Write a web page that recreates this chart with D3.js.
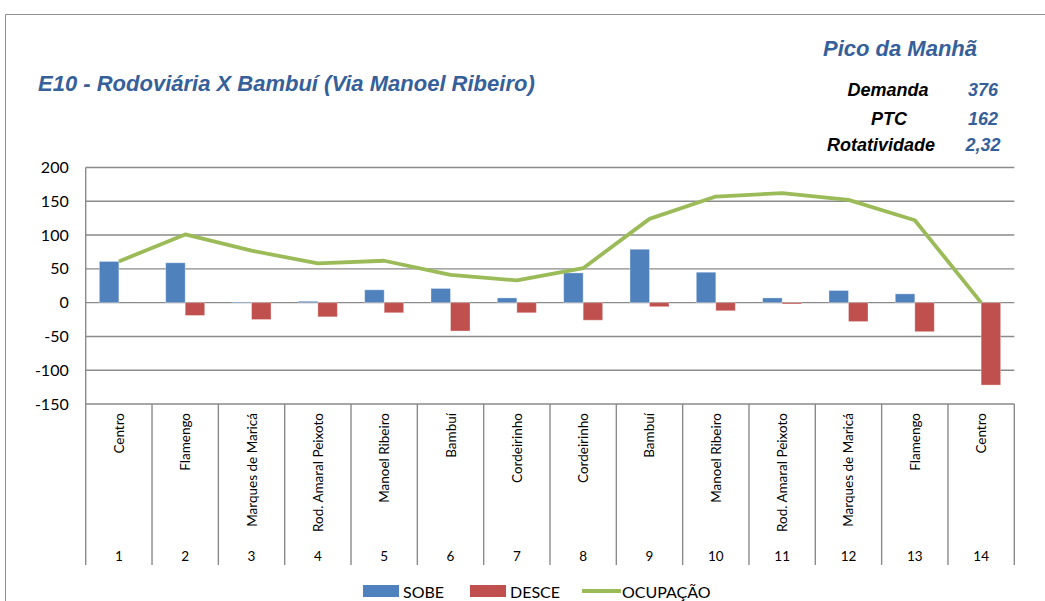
<!DOCTYPE html>
<html>
<head>
<meta charset="utf-8">
<script src="https://cdn.jsdelivr.net/npm/d3@7"></script>
<style>
  html, body { margin: 0; padding: 0; background: #fff; }
  svg { display: block; }
</style>
</head>
<body>
<svg id="chart" width="1045" height="601"></svg>
<script>
// Stops along the line, in travel order
const stopNames = ["Centro", "Flamengo", "Marques de Maricá", "Rod. Amaral Peixoto", "Manoel Ribeiro",
  "Bambuí", "Cordeirinho", "Cordeirinho", "Bambuí", "Manoel Ribeiro",
  "Rod. Amaral Peixoto", "Marques de Maricá", "Flamengo", "Centro"];
const stopNumbers = ["1", "2", "3", "4", "5", "6", "7", "8", "9", "10", "11", "12", "13", "14"];

// Boardings, alightings (negative) and on-board load per stop
const sobe     = [61, 59, 1, 2, 19, 21, 7, 44, 79, 45, 7, 18, 13, 0];
const desce    = [0, -19, -25, -21, -15, -42, -15, -26, -6, -12, -2, -28, -43, -122];
const ocupacao = [61, 101, 77, 58, 62, 41, 33, 51, 124, 157, 162, 152, 122, 0];

const yTicks = [200, 150, 100, 50, 0, -50, -100, -150];

// Summary block
const summaryLabels = ["Demanda", "PTC", "Rotatividade"];
const summaryValues = ["376", "162", "2,32"];

const legendItems = [
  { key: "sobe", label: "SOBE" },
  { key: "desce", label: "DESCE" },
  { key: "ocupacao", label: "OCUPAÇÃO" }
];

const colors = { sobe: "#4F81BD", desce: "#C0504D", ocupacao: "#9BBB59" };
const titleBlue = "#36609A";
const gridColor = "#8A8A8A";
const labelFont = "Lato, 'Open Sans', sans-serif";
const headFont = "'Liberation Sans', Arial, sans-serif";

const svg = d3.select("#chart");

// outer frame
svg.append("path")
  .attr("d", "M5.5,640 L5.5,14.5 L1050,14.5")
  .attr("fill", "none").attr("stroke", "#8f8f8f").attr("stroke-width", 1);

// title
svg.append("text")
  .attr("x", 38).attr("y", 91)
  .attr("font-family", headFont).attr("font-size", 22)
  .attr("font-weight", "bold").attr("font-style", "italic")
  .attr("fill", titleBlue)
  .text("E10 - Rodoviária X Bambuí (Via Manoel Ribeiro)");

svg.append("text")
  .attr("x", 900).attr("y", 56).attr("text-anchor", "middle")
  .attr("font-family", headFont).attr("font-size", 22)
  .attr("font-weight", "bold").attr("font-style", "italic")
  .attr("fill", titleBlue)
  .text("Pico da Manhã");

const summaryY = [96, 124.5, 150.5];
const summaryLabelX = [888, 889, 881];
summaryLabels.forEach((lbl, i) => {
  svg.append("text")
    .attr("x", summaryLabelX[i]).attr("y", summaryY[i]).attr("text-anchor", "middle")
    .attr("font-family", headFont).attr("font-size", 18)
    .attr("font-weight", "bold").attr("font-style", "italic")
    .attr("fill", "#000").text(lbl);
  svg.append("text")
    .attr("x", 983).attr("y", summaryY[i]).attr("text-anchor", "middle")
    .attr("font-family", headFont).attr("font-size", 18)
    .attr("font-weight", "bold").attr("font-style", "italic")
    .attr("fill", titleBlue).text(summaryValues[i]);
});

// scales
const plotLeft = 85.7, plotRight = 1014.3;
const plotTop = 167.5, plotBottom = 404;
const axisBottom = 565;

const x = d3.scaleBand().domain(stopNumbers).range([plotLeft, plotRight]).paddingInner(0).paddingOuter(0);
const xInner = d3.scaleBand().domain(["sobe", "desce"]).range([0, x.bandwidth()]).paddingInner(0).paddingOuter(0.7);
const y = d3.scaleLinear().domain([-150, 200]).range([plotBottom, plotTop]);

// horizontal gridlines
svg.append("g")
  .selectAll("line").data(yTicks).join("line")
  .attr("x1", plotLeft).attr("x2", plotRight)
  .attr("y1", d => y(d)).attr("y2", d => y(d))
  .attr("stroke", gridColor).attr("stroke-width", 1.4);

// y axis (plain hyphen for negatives)
const yAxis = d3.axisLeft(y).tickValues(yTicks).tickSize(0).tickPadding(17).tickFormat(d => String(d));
const yg = svg.append("g").attr("transform", `translate(${plotLeft},0)`).call(yAxis);
yg.select(".domain").remove();
yg.selectAll("text")
  .attr("font-family", labelFont).attr("font-size", 16).attr("fill", "#000");

// category table: vertical separators
const boundaries = stopNumbers.map(d => x(d)).concat([plotRight]);
svg.append("g")
  .selectAll("line").data(boundaries).join("line")
  .attr("x1", d => d).attr("x2", d => d)
  .attr("y1", (d, i) => (i === 0 ? plotTop : plotBottom)).attr("y2", axisBottom)
  .attr("stroke", gridColor).attr("stroke-width", 1.4);

// stop names (rotated) and stop numbers
svg.append("g")
  .selectAll("text").data(stopNumbers).join("text")
  .attr("transform", d => `translate(${x(d) + x.bandwidth() / 2},413) rotate(-90)`)
  .attr("text-anchor", "end").attr("dominant-baseline", "central")
  .attr("font-family", labelFont).attr("font-size", 13.5).attr("fill", "#000")
  .text((d, i) => stopNames[i]);

svg.append("g")
  .selectAll("text").data(stopNumbers).join("text")
  .attr("x", d => x(d) + x.bandwidth() / 2).attr("y", 556)
  .attr("text-anchor", "middle").attr("dominant-baseline", "central")
  .attr("font-family", labelFont).attr("font-size", 13.5).attr("fill", "#000")
  .text(d => d);

// bars
const barRows = stopNumbers.map((d, i) => ({ stop: d, sobe: sobe[i], desce: desce[i] }));
["sobe", "desce"].forEach(key => {
  svg.append("g")
    .selectAll("rect").data(barRows).join("rect")
    .attr("x", d => x(d.stop) + xInner(key))
    .attr("width", xInner.bandwidth())
    .attr("y", d => y(Math.max(0, d[key])))
    .attr("height", d => Math.abs(y(d[key]) - y(0)))
    .attr("fill", colors[key])
    .attr("stroke", "rgba(255,255,255,0.35)").attr("stroke-width", 1);
});

// load line
const line = d3.line()
  .x((d, i) => x(stopNumbers[i]) + x.bandwidth() / 2)
  .y(d => y(d));
svg.append("path")
  .datum(ocupacao)
  .attr("d", line)
  .attr("fill", "none")
  .attr("stroke", colors.ocupacao).attr("stroke-width", 3.8)
  .attr("stroke-linejoin", "round");

// legend
const legendPos = { sobe: 363, desce: 470, ocupacao: 582 };
legendItems.forEach(item => {
  const lx = legendPos[item.key];
  if (item.key === "ocupacao") {
    svg.append("line")
      .attr("x1", lx).attr("x2", lx + 39).attr("y1", 591).attr("y2", 591)
      .attr("stroke", colors.ocupacao).attr("stroke-width", 3.8);
  } else {
    svg.append("rect")
      .attr("x", lx).attr("y", 585).attr("width", 36).attr("height", 12)
      .attr("fill", colors[item.key]);
  }
  svg.append("text")
    .attr("x", lx + 40).attr("y", 591).attr("dominant-baseline", "central")
    .attr("font-family", labelFont).attr("font-size", 16).attr("fill", "#000")
    .text(item.label);
});
</script>
</body>
</html>
